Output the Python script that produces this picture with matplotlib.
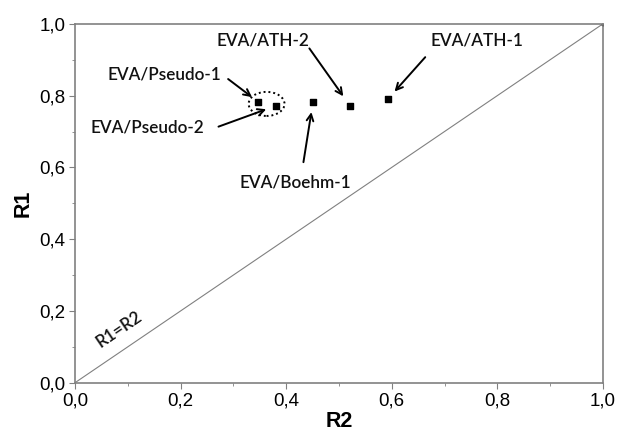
import matplotlib
matplotlib.use("Agg")
import matplotlib.pyplot as plt
from matplotlib.patches import Ellipse
import numpy as np

labels = ["EVA/Pseudo-1", "EVA/Pseudo-2", "EVA/Boehm-1", "EVA/ATH-2", "EVA/ATH-1"]
r2 = [0.347, 0.381, 0.451, 0.521, 0.593]
r1 = [0.783, 0.772, 0.783, 0.772, 0.791]
# text positions (data coords)
text_xy = [(0.170, 0.860), (0.137, 0.712), (0.417, 0.557), (0.356, 0.955), (0.761, 0.955)]
arrow_start = [(0.286, 0.851), (0.267, 0.711), (0.432, 0.607), (0.441, 0.938), (0.667, 0.913)]
tick_vals = [0.0, 0.2, 0.4, 0.6, 0.8, 1.0]
tick_labels = ["0,0", "0,2", "0,4", "0,6", "0,8", "1,0"]

fig = plt.figure(figsize=(6.19, 4.34), dpi=100)
ax = fig.add_axes([0.121, 0.118, 0.853, 0.827])
ax.set_xlim(0, 1)
ax.set_ylim(0, 1)

gray = "#808080"
ax.plot([0, 1], [0, 1], color=gray, lw=0.8)
ax.plot([1], [1], "o", color="black", ms=2)
ax.scatter(r2, r1, marker="s", s=24, color="black", zorder=5)

ell = Ellipse((0.363, 0.777), 0.068, 0.067, fill=False, ls=(0, (1, 1.5)), lw=1.4, color="black")
ax.add_patch(ell)

ann_font = dict(family=["Lato", "DejaVu Sans"], fontsize=12.3, fontweight="semibold", color="#111111")
for lab, (tx, ty), (sx, sy), x, y in zip(labels, text_xy, arrow_start, r2, r1):
    ax.text(tx, ty, lab, ha="center", va="center", **ann_font)
    dx = x - sx
    dy = y - sy
    ex = sx + dx * 0.88
    ey = sy + dy * 0.88
    ax.annotate("", xy=(ex, ey), xytext=(sx, sy),
                arrowprops=dict(arrowstyle="->", color="black", lw=1.4,
                                mutation_scale=12))

ax.text(0.083, 0.15, "R1=R2", rotation=34.2, ha="center", va="center",
        rotation_mode="anchor", **ann_font)

ax.set_xticks(tick_vals)
ax.set_xticklabels(tick_labels)
ax.set_yticks(tick_vals)
ax.set_yticklabels(tick_labels)
ax.set_xticks(np.arange(0.1, 1.0, 0.2), minor=True)
ax.set_yticks(np.arange(0.1, 1.0, 0.2), minor=True)
ax.tick_params(which="major", direction="out", length=4, color=gray,
               labelsize=13.5, pad=3)
ax.tick_params(which="minor", direction="out", length=2, color=gray)
for lbl in ax.get_xticklabels() + ax.get_yticklabels():
    lbl.set_family(["Liberation Sans", "DejaVu Sans"])
for sp in ax.spines.values():
    sp.set_color(gray)
    sp.set_linewidth(1.2)

ax.set_xlabel("R2", fontsize=15.5, fontweight="bold", family=["Liberation Sans", "DejaVu Sans"], labelpad=1)
ax.set_ylabel("R1", fontsize=15.5, fontweight="bold", family=["Liberation Sans", "DejaVu Sans"], labelpad=4)

fig.savefig("out.png", dpi=100)
